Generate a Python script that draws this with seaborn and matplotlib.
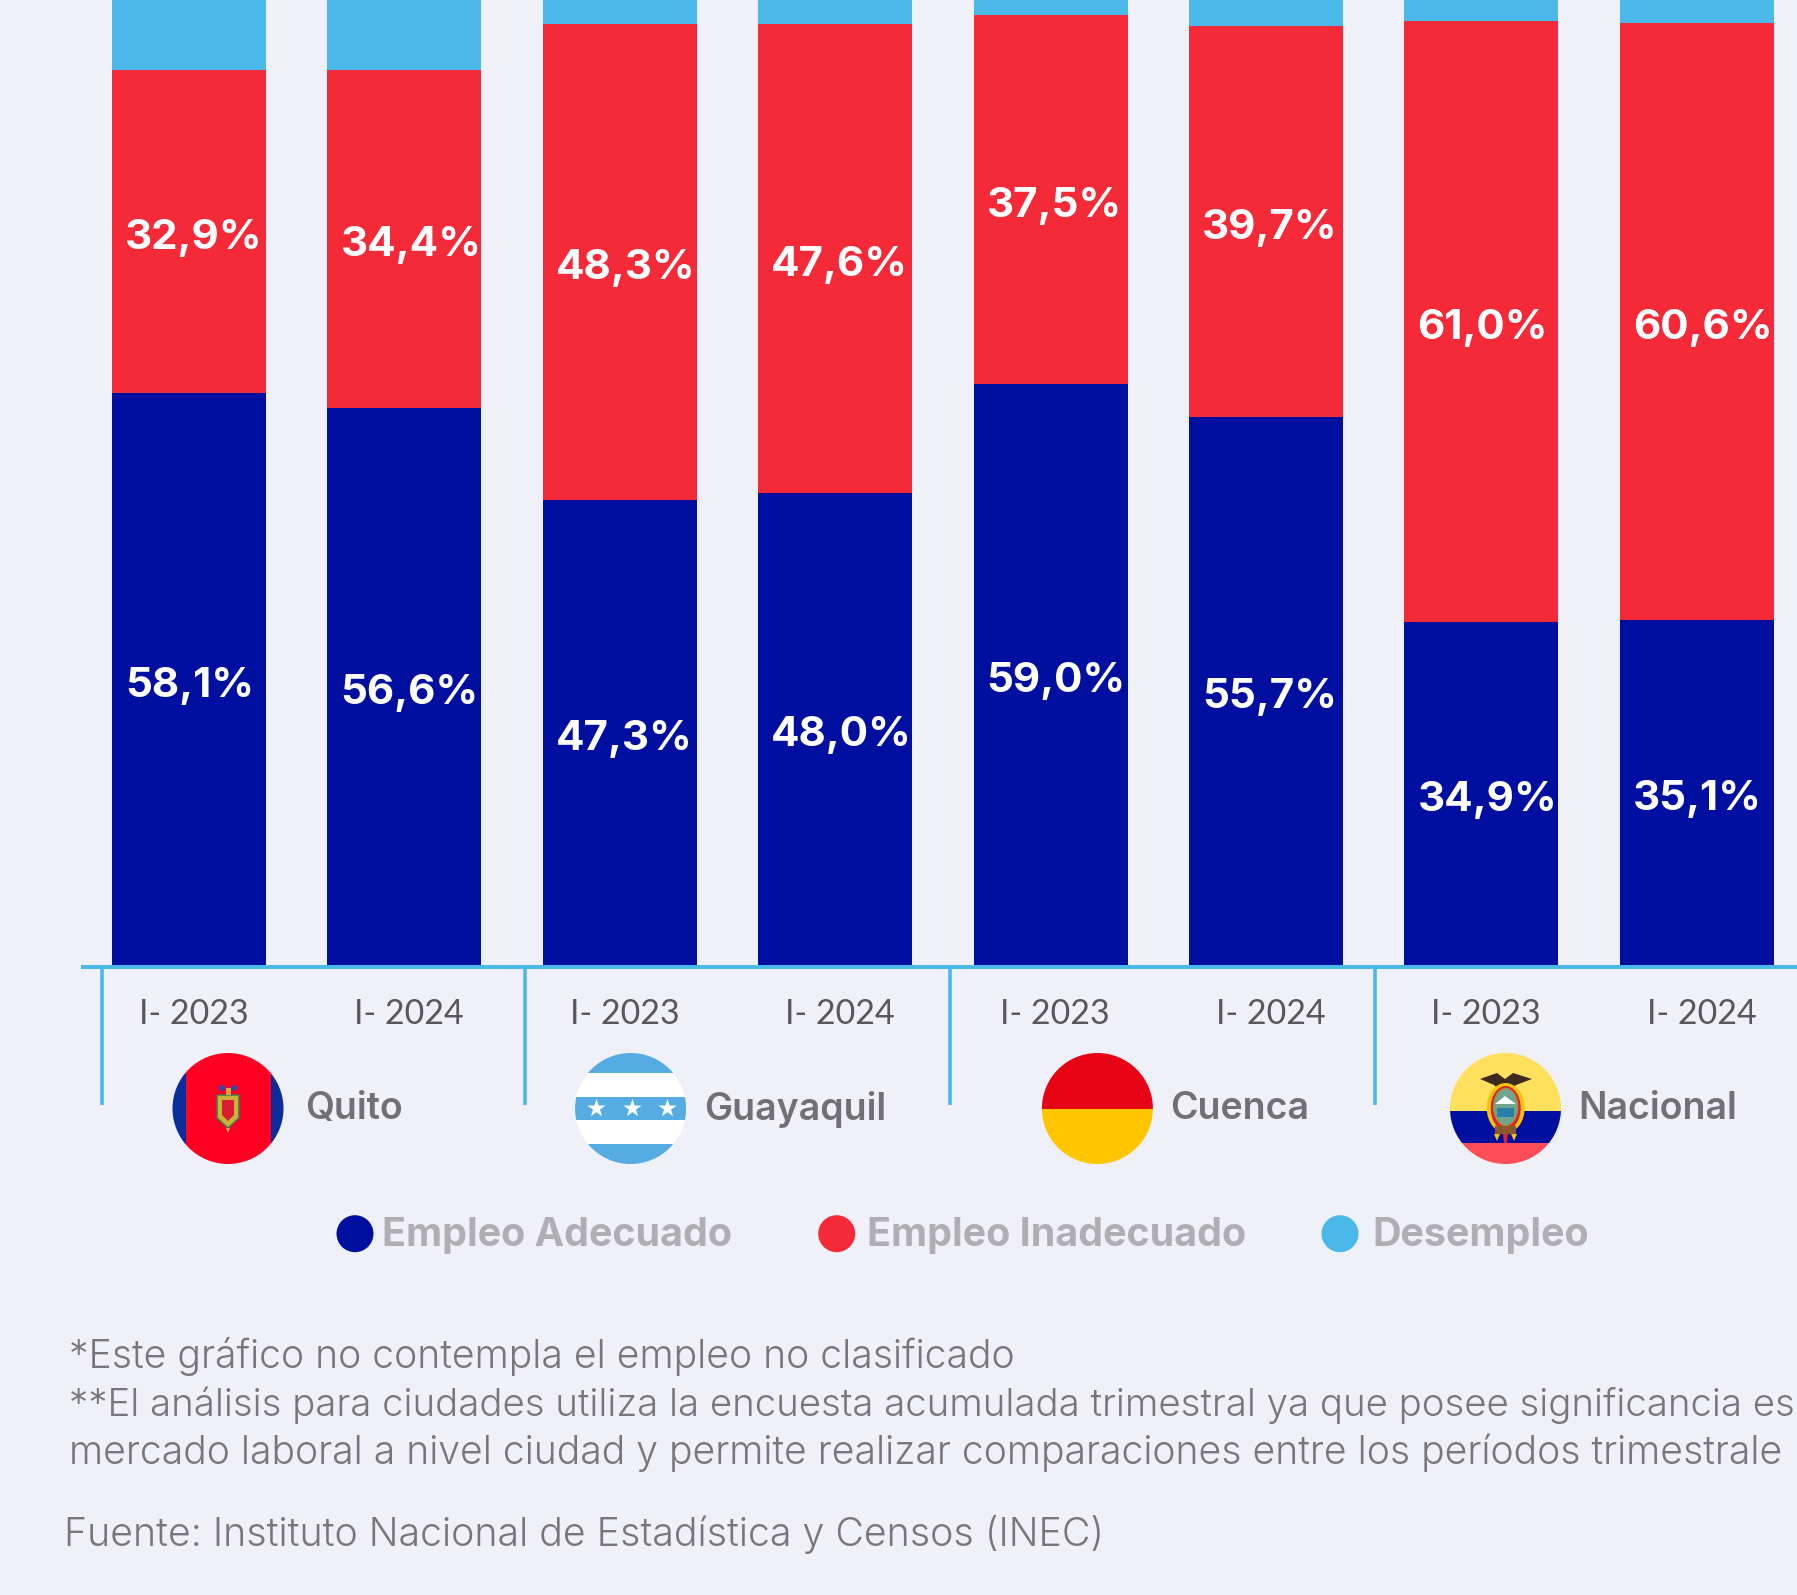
import matplotlib
matplotlib.use("Agg")
import matplotlib.pyplot as plt
from matplotlib.patches import Circle, Rectangle, Ellipse, Polygon
import numpy as np
import pandas as pd
import seaborn as sns

cities = ["Quito", "Guayaquil", "Cuenca", "Nacional"]
periods = ["I- 2023", "I- 2024"] * 4
bar_ids = ["Q23", "Q24", "G23", "G24", "C23", "C24", "N23", "N24"]
adecuado = [58.1, 56.6, 47.3, 48.0, 59.0, 55.7, 34.9, 35.1]
inadecuado = [32.9, 34.4, 48.3, 47.6, 37.5, 39.7, 61.0, 60.6]
desempleo = [8.9, 8.9, 4.2, 4.3, 3.4, 4.5, 3.8, 4.0]
series_names = ["Empleo Adecuado", "Empleo Inadecuado", "Desempleo"]
notes = [
    "*Este gráfico no contempla el empleo no clasificado",
    "**El análisis para ciudades utiliza la encuesta acumulada trimestral ya que posee significancia es",
    "mercado laboral a nivel ciudad y permite realizar comparaciones entre los períodos trimestrale",
]
source = "Fuente: Instituto Nacional de Estadística y Censos (INEC)"

BG = "#F0F1F8"
BLUE, RED, SKY = "#000F9F", "#F52A39", "#4AB9EA"
W, H = 1797, 1595
PX = 72 / 100
INTER = ["Inter", "Lato", "DejaVu Sans"]

sns.set_theme(style="white")
plt.rcParams["font.family"] = ["Lato", "DejaVu Sans"]

fig = plt.figure(figsize=(W / 100, H / 100), dpi=100, facecolor=BG)
ax = fig.add_axes([83 / W, (H - 965) / H, (W - 83) / W, 965 / H], facecolor="none")

df = pd.DataFrame({"bar": bar_ids, "ad": adecuado, "ina": inadecuado, "des": desempleo})
bot2 = df["ad"].to_numpy()
bot3 = (df["ad"] + df["ina"]).to_numpy()
common = dict(data=df, x="bar", order=bar_ids, width=0.715, ax=ax, linewidth=0, saturation=1)
sns.barplot(y="ad", color=BLUE, **common)
sns.barplot(y="ina", color=RED, bottom=bot2, **common)
sns.barplot(y="des", color=SKY, bottom=bot3, **common)

ax.set_xlim((83 - 189) / 215.4, (W - 189) / 215.4)
ax.set_ylim(0, 965 / 9.84)
ax.set_xlabel("")
ax.set_ylabel("")
ax.set_yticks([])
ax.set_xticks(np.arange(8) + 4.7 / 215.4)
ax.set_xticklabels(periods)
ax.tick_params(axis="x", length=0, pad=22, labelsize=24.5, labelcolor="#58585A")
for lab in ax.get_xticklabels():
    lab.set_fontweight(300)
for s in ["top", "left", "right"]:
    ax.spines[s].set_visible(False)
ax.spines["bottom"].set_color(SKY)
ax.spines["bottom"].set_linewidth(4 * PX)
ax.spines["bottom"].set_position(("outward", 2 * PX))

for i in range(8):
    x = i - 0.715 / 2 + 13 / 215.4
    for base, v in ((0, adecuado[i]), (adecuado[i], inadecuado[i])):
        ax.annotate(f"{v:.1f}%".replace(".", ","), (x, base + v / 2), xytext=(0, -4.7),
                    textcoords="offset points", color="white", fontsize=30.3, fontweight="bold",
                    ha="left", va="center", family=INTER)

ov = fig.add_axes([0, 0, 1, 1], facecolor="none")
ov.set_xlim(0, W)
ov.set_ylim(H, 0)
ov.axis("off")

for x in [102, 525, 950, 1374.6]:
    ov.plot([x, x], [969, 1105], color=SKY, lw=3.6 * PX, solid_capstyle="butt")

def flag(cx, stripes, cy=1108.5, r=55.5, vertical=False):
    clip = Circle((cx, cy), r, transform=ov.transData)
    for a, b, c in stripes:
        if vertical:
            p = Rectangle((a, cy - r), b - a, 2 * r, fc=c, lw=0)
        else:
            p = Rectangle((cx - r, a), 2 * r, b - a, fc=c, lw=0)
        ov.add_patch(p)
        p.set_clip_path(clip)

# Quito
flag(228, [(170, 186, "#0A2C9C"), (186, 271, "#FF0022"), (271, 290, "#0A2C9C")], vertical=True)
ov.add_patch(Polygon([(217, 1095), (239, 1095), (239, 1118), (228, 1128), (217, 1118)], fc="#C9B23A", ec="#2E7D4F", lw=1))
ov.add_patch(Polygon([(222, 1100), (234, 1100), (234, 1115), (228, 1121), (222, 1115)], fc="#D81E30", lw=0))
ov.add_patch(Rectangle((225.5, 1088), 5, 7, fc="#E9A23B", lw=0))
ov.add_patch(Circle((222, 1088), 3, fc="#2A4BB0", lw=0))
ov.add_patch(Circle((234, 1088), 3, fc="#2A4BB0", lw=0))
ov.add_patch(Polygon([(226, 1128), (230, 1128), (228, 1133)], fc="#E9A23B", lw=0))

# Guayaquil
g = "#54ACE2"
flag(630.6, [(1050, 1072.7, g), (1072.7, 1096.7, "white"), (1096.7, 1120.3, g), (1120.3, 1144.3, "white"), (1144.3, 1170, g)])
ov.scatter([595.6, 631.6, 667.3], [1108, 1108, 1108], marker="*", s=190, c="white", linewidths=0, zorder=3)

# Cuenca
flag(1097.4, [(1050, 1109, "#E60415"), (1109, 1170, "#FFC600")])

# Nacional
flag(1505.5, [(1050, 1111, "#FFE05C"), (1111, 1142.7, "#000F9F"), (1142.7, 1170, "#FF4D58")])
ov.add_patch(Polygon([(1480, 1079), (1497, 1073), (1505, 1079), (1513, 1073), (1532, 1079), (1516, 1085), (1510, 1091), (1501, 1091), (1494, 1085)], fc="#3D2B22", lw=0))
ov.add_patch(Ellipse((1505.7, 1108), 38, 50, fc="#F4C20D", lw=0))
ov.add_patch(Ellipse((1505.7, 1108), 30, 44, fc="#D8242C", lw=0))
ov.add_patch(Ellipse((1505.7, 1107), 24, 37, fc="#6FA58E", ec="#B08A3C", lw=1))
ov.add_patch(Polygon([(1495, 1104), (1505, 1096), (1516, 1104)], fc="white", lw=0))
ov.add_patch(Rectangle((1497, 1108), 17, 9, fc="#2A7FA8", lw=0))
ov.add_patch(Rectangle((1495, 1126), 21, 8, fc="#8A5A2B", lw=0))
ov.add_patch(Polygon([(1503, 1134), (1508, 1134), (1507, 1143), (1504, 1143)], fc="#D8242C", lw=0))
ov.add_patch(Polygon([(1494, 1134), (1500, 1134), (1497, 1141)], fc="#F4C20D", lw=0))
ov.add_patch(Polygon([(1511, 1134), (1517, 1134), (1514, 1141)], fc="#F4C20D", lw=0))

for name, x in zip(cities, [305.5, 704.5, 1170.5, 1578.5]):
    ov.text(x, 1109, name, color="#717074", fontsize=27, fontweight="semibold", ha="left", va="center", family=INTER)

for name, cx, tx, c in zip(series_names, [355, 836.7, 1340], [382, 867, 1372], [BLUE, RED, SKY]):
    ov.add_patch(Circle((cx, 1233.7), 18.5, fc=c, lw=0))
    ov.text(tx, 1235.5, name, color="#AEAEB3", fontsize=28.4, fontweight="bold", ha="left", va="center", family=INTER)

for y, t, fs in zip([1357, 1405, 1453], notes, [28.2, 27.6, 28.2]):
    ov.text(69, y, t, color="#77767B", fontsize=fs, fontweight=300, ha="left", va="center", family=INTER)
ov.text(64, 1534, source, color="#77767B", fontsize=28.3, fontweight=300, ha="left", va="center", family=INTER)

fig.savefig("out.png", dpi=100, facecolor=BG)
